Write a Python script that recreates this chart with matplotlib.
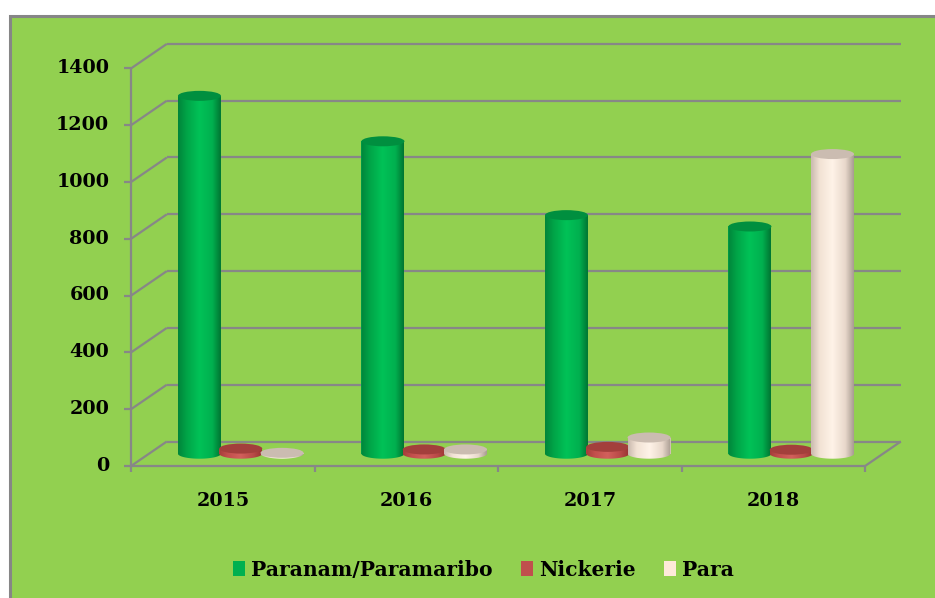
import numpy as np
import matplotlib
matplotlib.use("Agg")
import matplotlib.pyplot as plt
from matplotlib.patches import Rectangle, Ellipse, Patch
from matplotlib.path import Path
from matplotlib.colors import LinearSegmentedColormap

# ---- data ----
years = ["2015", "2016", "2017", "2018"]
series_names = ["Paranam/Paramaribo", "Nickerie", "Para"]
paranam = [1260, 1100, 840, 800]
nickerie = [18, 15, 24, 14]
para = [3, 15, 57, 1055]
yticks = [0, 200, 400, 600, 800, 1000, 1200, 1400]

series = [paranam, nickerie, para]
legend_colors = ["#00B050", "#C0504D", "#FDEADA"]
body_stops = [
    ["#00843a", "#00a447", "#00c257", "#00b04f", "#007532"],
    ["#a53d3a", "#c24f4c", "#d2605c", "#b94a47", "#983532"],
    ["#c9b9ae", "#f2e2d4", "#fff3e8", "#e8d8cb", "#a89b91"],
]
cap_colors = ["#008f3f", "#a33f3c", "#cbbcb1"]

W, H, DPI = 935, 598, 100
fig = plt.figure(figsize=(W / DPI, H / DPI), dpi=DPI)
fig.patch.set_facecolor("white")

# chart area background with grey frame
fig.add_artist(Rectangle((9.5 / W, -0.05), 1.1, 1 - 15.5 / H + 0.05,
                         transform=fig.transFigure, facecolor="#92D050",
                         edgecolor="#868686", linewidth=2.2, zorder=0))

# plotting plane (mid depth of the 3-D box), placed in pixel units
XL, XR = -0.75, 3.75
YB, YT = -150, 1450
left_px, sx = 149.0 - 0.25 * 183.5, 183.5      # px per category
sy = (453.7 - 56.1) / 1400.0                    # px per unit value
zero_px = 453.7
ax_left = left_px
ax_w = (XR - XL) * sx
ax_top = zero_px - YT * sy
ax_h = (YT - YB) * sy
ax = fig.add_axes([ax_left / W, 1 - (ax_top + ax_h) / H, ax_w / W, ax_h / H])
ax.patch.set_alpha(0)
ax.axis("off")

# depth of the box (half depth, in data units)
ddx = 17.8 / sx
ddy = 12.2 / sy
grid_kw = dict(color="#878787", linewidth=1.6, solid_capstyle="butt", zorder=1)
x_lo, x_hi = -0.5, len(years) - 0.5

for v in yticks:
    # back wall line
    ax.plot([x_lo + ddx, x_hi + ddx], [v + ddy, v + ddy], **grid_kw)
    # side wall line
    ax.plot([x_lo - ddx, x_lo + ddx], [v - ddy, v + ddy], **grid_kw)
    # tick on the front axis
    ax.plot([x_lo - ddx - 7 / sx, x_lo - ddx], [v - ddy, v - ddy], **grid_kw)
    ax.text(x_lo - ddx - 22 / sx, v - ddy, str(v), ha="right", va="center",
            fontsize=13.8, fontweight="bold", family="DejaVu Serif", color="black")

# front vertical axis
ax.plot([x_lo - ddx, x_lo - ddx], [yticks[0] - ddy, yticks[-1] - ddy], **grid_kw)
# floor front edge and right edge
ax.plot([x_lo - ddx, x_hi - ddx], [-ddy, -ddy], **grid_kw)
ax.plot([x_hi - ddx, x_hi + ddx], [-ddy, ddy], **grid_kw)
for k in range(len(years) + 1):
    xb = x_lo + k - ddx
    ax.plot([xb, xb], [-ddy, -ddy - 6 / sy], **grid_kw)
for i, yr in enumerate(years):
    ax.text(i - ddx, -ddy - 35 / sy, yr, ha="center", va="center",
            fontsize=13.8, fontweight="bold", family="DejaVu Serif", color="black")

# cylinders
bar_w = 43 / sx
offsets = [-41.3 / sx, 0.0, 41.3 / sx]
ry = 5.0 / sy
rx = bar_w / 2
t = np.linspace(np.pi, 2 * np.pi, 40)
grad = np.linspace(0, 1, 256).reshape(1, -1)

z = 2
for i in range(len(years)):
    for s, vals in enumerate(series):
        v = vals[i]
        xc = i + offsets[s]
        x0, x1 = xc - rx, xc + rx
        bars = ax.bar(xc, v, width=bar_w, bottom=0, color=legend_colors[s],
                      linewidth=0, zorder=z)
        # shaded body clipped to the cylinder outline
        verts = [(x0, v), (x0, 0)]
        verts += list(zip(xc + rx * np.cos(t), ry * np.sin(t)))
        verts += [(x1, 0), (x1, v), (x0, v)]
        outline = Path(verts, closed=True)
        cmap = LinearSegmentedColormap.from_list(
            "c%d" % s, list(zip([0, 0.2, 0.5, 0.8, 1.0], body_stops[s])))
        im = ax.imshow(grad, extent=[x0, x1, -ry, v], aspect="auto", cmap=cmap,
                       interpolation="bilinear", zorder=z + 0.1)
        im.set_clip_path(outline, ax.transData)
        ax.add_patch(Ellipse((xc, v), bar_w, 2 * ry, facecolor=cap_colors[s],
                             edgecolor="none", zorder=z + 0.2))
        z += 1

ax.set_xlim(XL, XR)
ax.set_ylim(YB, YT)

handles = [Patch(facecolor=c, edgecolor="none") for c in legend_colors]
fig.legend(handles, series_names, loc="center", bbox_to_anchor=(0.517, 0.047),
           ncol=3, frameon=False, handlelength=0.6, handleheight=0.75,
           handletextpad=0.3, columnspacing=1.4,
           prop=dict(family="DejaVu Serif", weight="bold", size=14.6))

fig.savefig("out.png", dpi=DPI, facecolor=fig.get_facecolor())
